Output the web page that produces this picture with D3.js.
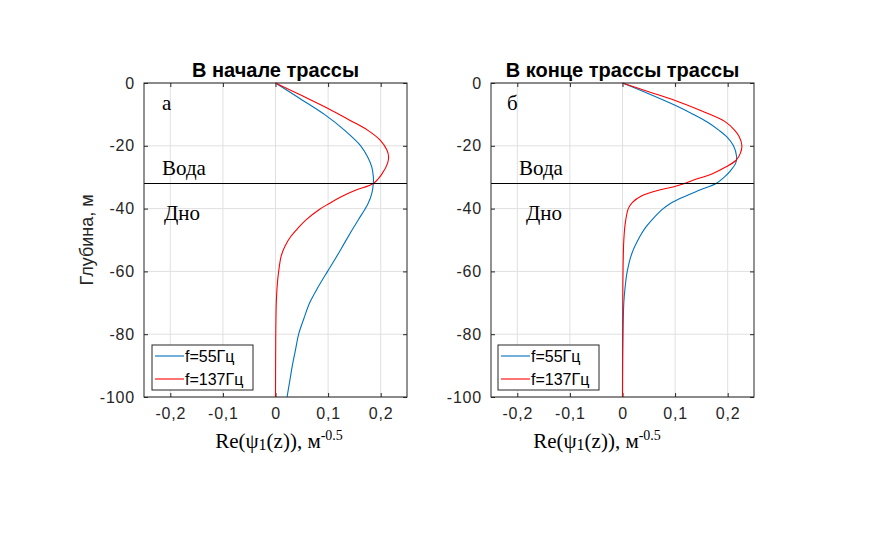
<!DOCTYPE html>
<html><head><meta charset="utf-8">
<script src="https://cdn.jsdelivr.net/npm/d3@7"></script>
<style>
html,body{margin:0;padding:0;background:#fff;}
svg{display:block;}
</style></head>
<body>
<svg id="c" width="871" height="558"></svg>
<script>
// ---- data ----
const xTicks = [-0.2, -0.1, 0, 0.1, 0.2];
const xTickLabels = ["-0,2", "-0,1", "0", "0,1", "0,2"];
const yTicks = [0, -20, -40, -60, -80, -100];
const yTickLabels = ["0", "-20", "-40", "-60", "-80", "-100"];
const seriesNames = ["f=55Гц", "f=137Гц"];
const panelTitles = ["В начале трассы", "В конце трассы трассы"];
const panelLetters = ["а", "б"];
const bottomDepth = -32;

const startDepth55 = [0,-5,-10,-15,-20,-23.5,-26.7,-29.9,-32,-35.2,-38.4,-40.2,-43.7,-47,-51,-55.9,-60,-65,-70,-75,-80,-85,-90,-95,-100];
const start55      = [0,0.047,0.093,0.131,0.162,0.175,0.183,0.186,0.186,0.183,0.176,0.170,0.157,0.145,0.131,0.114,0.099,0.081,0.065,0.054,0.044,0.038,0.032,0.027,0.022];

const startDepth137 = [0,-4,-8.1,-12,-15,-18.2,-21.4,-23.5,-25.6,-28.8,-32,-34.1,-36.3,-38.4,-40.2,-43.6,-46,-48.9,-52,-55,-60,-65,-70,-80,-90,-100];
const start137      = [0,0.05,0.1,0.143,0.175,0.199,0.212,0.215,0.213,0.203,0.186,0.153,0.124,0.102,0.084,0.058,0.044,0.029,0.018,0.011,0.006,0.003,0.0015,0.0005,0.0002,0];

const endDepth55 = [0,-3,-7,-10,-12.5,-15,-17.1,-20,-23.5,-25.6,-27.8,-29.9,-32,-34.1,-36.3,-38.4,-40.5,-43.6,-46,-48.9,-54.2,-60,-65,-70,-80,-90,-100];
const end55      = [0,0.044,0.099,0.135,0.162,0.183,0.198,0.211,0.217,0.215,0.206,0.194,0.178,0.147,0.116,0.091,0.074,0.056,0.044,0.033,0.018,0.009,0.005,0.0025,0.001,0.0003,0];

const endDepth137 = [0,-3,-5.6,-9,-12.3,-15,-17.1,-20,-22.4,-24.6,-26.7,-28.8,-31,-32,-33.1,-34.1,-36,-38,-40,-45,-50,-60,-70,-80,-100];
const end137      = [0,0.054,0.1,0.152,0.195,0.213,0.222,0.227,0.224,0.216,0.197,0.172,0.134,0.118,0.096,0.07,0.036,0.019,0.011,0.005,0.0025,0.001,0.0005,0.0002,0];

const colors = ["#0072BD", "#FF0000"];

// ---- layout ----
const panels = [
  {x0:144, x1:407, series:[{d:startDepth55, v:start55},{d:startDepth137, v:start137}],
   legendX:152, letterX:162, vodaX:162, dnoX:164, xlabelX:279},
  {x0:491, x1:754, series:[{d:endDepth55, v:end55},{d:endDepth137, v:end137}],
   legendX:498, letterX:507, vodaX:519, dnoX:526, xlabelX:597}
];
const y0 = 83, y1 = 397;
const svg = d3.select("#c");
const axCol = "#262626";
const sans = "'Liberation Sans', Arial, Helvetica, sans-serif";
const serif = "'Liberation Serif', 'Times New Roman', serif";

panels.forEach((p, pi) => {
  const x = d3.scaleLinear().domain([-0.25, 0.25]).range([p.x0, p.x1]);
  const y = d3.scaleLinear().domain([-100, 0]).range([y1, y0]);
  const g = svg.append("g");

  // grid
  g.selectAll(".gx").data(xTicks).join("line")
    .attr("x1", d => x(d)).attr("x2", d => x(d)).attr("y1", y0).attr("y2", y1)
    .attr("stroke", "#e0e0e0").attr("stroke-width", 1);
  g.selectAll(".gy").data(yTicks).join("line")
    .attr("y1", d => y(d)).attr("y2", d => y(d)).attr("x1", p.x0).attr("x2", p.x1)
    .attr("stroke", "#e0e0e0").attr("stroke-width", 1);

  // axes (MATLAB style: inward ticks on all sides)
  const axB = d3.axisBottom(x).tickValues(xTicks).tickSize(-4).tickPadding(11)
    .tickFormat((d,i) => xTickLabels[i]);
  const axT = d3.axisTop(x).tickValues(xTicks).tickSize(-4).tickFormat("");
  const axL = d3.axisLeft(y).tickValues(yTicks).tickSize(-4).tickPadding(9)
    .tickFormat((d,i) => yTickLabels[i]);
  const axR = d3.axisRight(y).tickValues(yTicks).tickSize(-4).tickFormat("");
  const styleAx = sel => {
    sel.select(".domain").remove();
    sel.selectAll("line").attr("stroke", axCol);
    sel.selectAll("text").attr("fill", axCol)
      .style("font-family", sans).style("font-size", "16px").style("letter-spacing", "0.8px");
  };
  g.append("g").attr("transform", `translate(0,${y1})`).call(axB).call(styleAx);
  g.append("g").attr("transform", `translate(0,${y0})`).call(axT).call(styleAx);
  g.append("g").attr("transform", `translate(${p.x0},0)`).call(axL).call(styleAx);
  g.append("g").attr("transform", `translate(${p.x1},0)`).call(axR).call(styleAx);

  // curves
  const line = d3.line().curve(d3.curveCatmullRom.alpha(0.5));
  p.series.forEach((s, si) => {
    const pts = s.d.map((dd, k) => [x(s.v[k]), y(dd)]);
    g.append("path").attr("d", line(pts)).attr("fill", "none")
      .attr("stroke", colors[si]).attr("stroke-width", 1.1);
  });

  // water / bottom boundary
  g.append("line").attr("x1", p.x0).attr("x2", p.x1)
    .attr("y1", y(bottomDepth)).attr("y2", y(bottomDepth))
    .attr("stroke", "#000").attr("stroke-width", 1.2);

  // box
  g.append("rect").attr("x", p.x0).attr("y", y0).attr("width", p.x1 - p.x0).attr("height", y1 - y0)
    .attr("fill", "none").attr("stroke", axCol).attr("stroke-width", 1);

  // annotations
  g.append("text").attr("x", p.letterX).attr("y", 110).text(panelLetters[pi])
    .style("font-family", serif).style("font-size", "21px").attr("fill", "#000");
  g.append("text").attr("x", p.vodaX).attr("y", 175).text("Вода")
    .style("font-family", serif).style("font-size", "21px").attr("fill", "#000");
  g.append("text").attr("x", p.dnoX).attr("y", 220).text("Дно")
    .style("font-family", serif).style("font-size", "21px").attr("fill", "#000");

  // title
  g.append("text").attr("x", (p.x0 + p.x1) / 2).attr("y", 77).attr("text-anchor", "middle")
    .text(panelTitles[pi]).style("font-family", sans)
    .style("font-size", "20px").style("font-weight", "bold").attr("fill", "#000");

  // x label
  const xl = g.append("text").attr("x", p.xlabelX).attr("y", 448).attr("text-anchor", "middle")
    .style("font-family", serif).style("font-size", "21px").attr("fill", "#000");
  xl.append("tspan").text("Re(ψ");
  xl.append("tspan").text("1").attr("dy", 2).style("font-size", "16px");
  xl.append("tspan").text("(z)), м").attr("dy", -2);
  xl.append("tspan").text("-0.5").attr("dy", -8).style("font-size", "14px");

  // legend
  const lx = p.legendX, ly = 345;
  g.append("rect").attr("x", lx).attr("y", ly).attr("width", 101).attr("height", 45)
    .attr("fill", "#fff").attr("stroke", axCol).attr("stroke-width", 1);
  seriesNames.forEach((nm, si) => {
    const yy = ly + 11 + si * 23;
    g.append("line").attr("x1", lx + 3).attr("x2", lx + 32).attr("y1", yy).attr("y2", yy)
      .attr("stroke", colors[si]).attr("stroke-width", 1.1);
    g.append("text").attr("x", lx + 33).attr("y", yy).attr("dy", "0.36em").text(nm)
      .style("font-family", sans).style("font-size", "16px").attr("fill", "#000");
  });
});

// y label (left panel only)
svg.append("text").attr("transform", "translate(93,240) rotate(-90)").attr("text-anchor", "middle")
  .text("Глубина, м").style("font-family", sans)
  .style("font-size", "18px").attr("fill", axCol);
</script>
</body></html>
